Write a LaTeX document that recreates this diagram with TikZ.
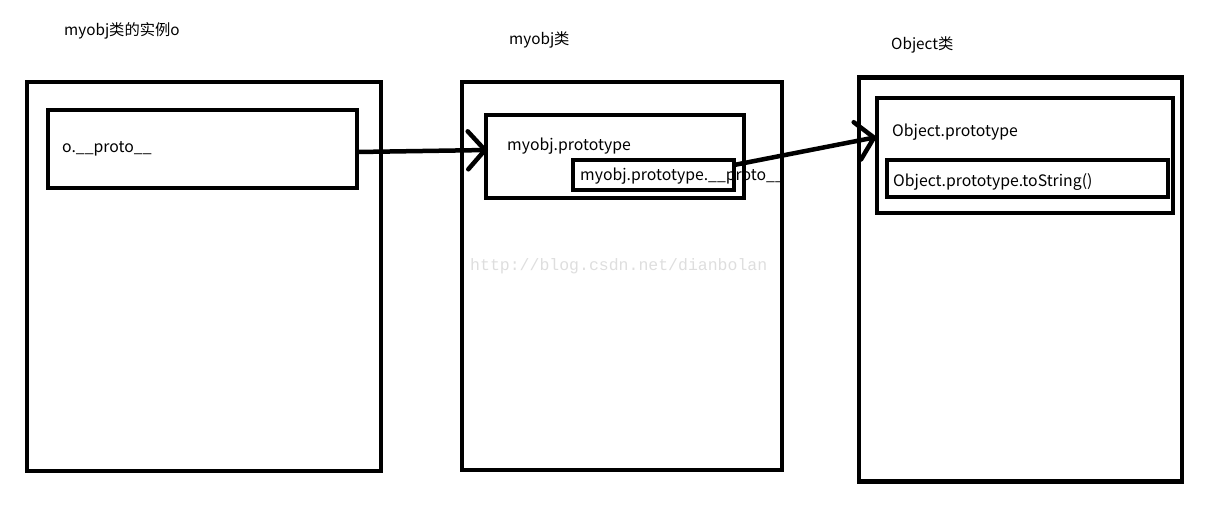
\documentclass[tikz,border=0pt]{standalone}
\usepackage{fontspec}
\setmainfont{Noto Sans CJK SC}
\newfontfamily\wmfont{Liberation Mono}
\usetikzlibrary{arrows.meta}
\begin{document}
\begin{tikzpicture}[x=1pt,y=-1pt,
  box/.style={draw=black,line width=4.5pt,rectangle,inner sep=0pt,outer sep=0pt},
  lbl/.style={anchor=base west,inner sep=0pt,font=\fontsize{15.8}{18}\selectfont},
  ttl/.style={anchor=west,inner sep=0pt,font=\fontsize{15.3}{18}\selectfont},
  link/.style={line width=4.5pt,-{Straight Barb[length=17pt 0,width=38pt 0,line cap=round]}}]
\useasboundingbox (0,0) rectangle (1219,506);
% titles
\node[ttl] (t1) at (64,31) {myobj类的实例o};
\node[ttl] (t2) at (509,40) {myobj类};
\node[ttl] (t3) at (891,45) {Object类};
% box 1
\node[box,minimum width=354pt,minimum height=389pt] (b1) at (204,276.5) {};
\node[box,minimum width=309pt,minimum height=78pt] (b1in) at (202.5,149) {};
\node[lbl] (l1) at (62,152) {o.\_\_proto\_\_};
% box 2
\node[box,minimum width=320pt,minimum height=388pt] (b2) at (622,276) {};
\node[box,minimum width=258pt,minimum height=83pt] (b2in) at (615,156.5) {};
\node[lbl] (l2) at (507,150) {myobj.prototype};
\node[box,minimum width=161pt,minimum height=30pt] (b2inin) at (653.5,175) {};
\node[lbl] (l3) at (580,180) {myobj.prototype.\_\_proto\_\_};
% box 3
\node[box,minimum width=323pt,minimum height=404pt] (b3) at (1020.5,279.5) {};
\node[box,minimum width=296pt,minimum height=115pt] (b3in) at (1025,155.5) {};
\node[lbl] (l4) at (892,136) {Object.prototype};
\node[box,minimum width=281pt,minimum height=37pt] (b3inin) at (1027.5,178.5) {};
\node[lbl] (l5) at (893,186) {Object.prototype.toString()};
% watermark
\node[anchor=base west,inner sep=0pt,text=black!13,font=\wmfont\fontsize{16.5}{18}\selectfont] (wm) at (470,270) {http://blog.csdn.net/dianbolan};
% arrows
\coordinate (a1s) at ([yshift=-3pt]b1in.east);
\coordinate (a1e) at (488,150);
\coordinate (a2s) at (734,165);
\coordinate (a2e) at (877,137);
\draw[link] (a1s) -- (a1e);
\draw[link] (a2s) -- (a2e);
\end{tikzpicture}
\end{document}
